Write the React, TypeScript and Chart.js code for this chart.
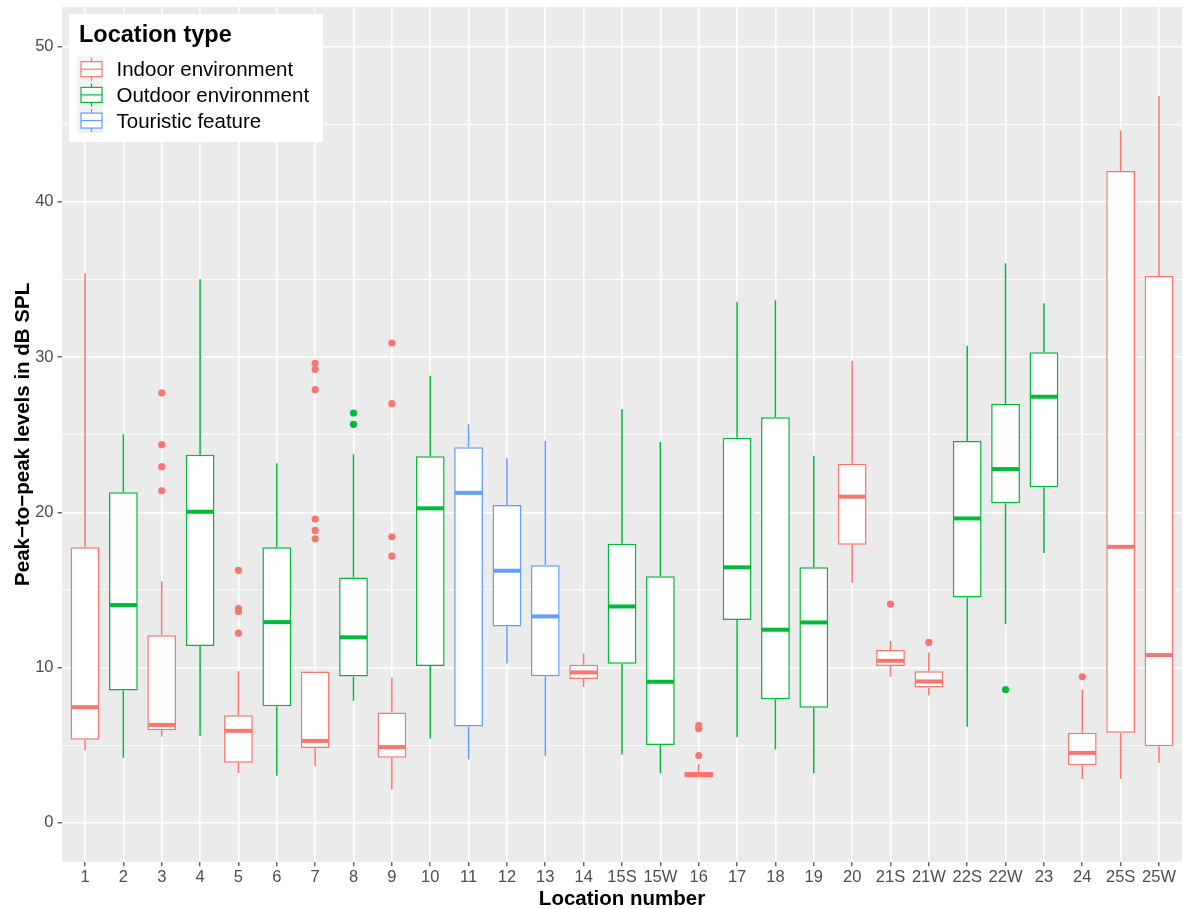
import React, { useEffect, useRef } from 'react';
import { Chart, registerables } from 'chart.js';

Chart.register(...registerables);

const FONT = '"Liberation Sans", Arial, Helvetica, sans-serif';

const LOCATIONS = ['1', '2', '3', '4', '5', '6', '7', '8', '9', '10', '11', '12', '13', '14', '15S', '15W', '16', '17', '18', '19', '20', '21S', '21W', '22S', '22W', '23', '24', '25S', '25W'];

const TYPES = ['Indoor environment', 'Outdoor environment', 'Touristic feature'];
const TYPE_COLORS = ['#F8766D', '#00BA38', '#619CFF'];

// 0 = Indoor, 1 = Outdoor, 2 = Touristic
const LOCATION_TYPE = [0, 1, 0, 1, 0, 1, 0, 1, 0, 1, 2, 2, 2, 0, 1, 1, 0, 1, 1, 1, 0, 0, 0, 1, 1, 1, 0, 0, 0];

const WHISKER_LOW = [4.68, 4.19, 5.54, 5.61, 3.22, 3.03, 3.67, 7.86, 2.15, 5.44, 4.08, 10.27, 4.32, 8.76, 4.41, 3.2, 2.93, 5.52, 4.73, 3.2, 15.46, 9.41, 8.21, 6.19, 12.8, 17.38, 2.82, 2.82, 3.87];
const Q1 = [5.35, 8.53, 5.97, 11.39, 3.87, 7.52, 4.83, 9.43, 4.19, 10.1, 6.21, 12.65, 9.45, 9.26, 10.25, 5.01, 2.93, 13.06, 7.97, 7.41, 17.91, 10.1, 8.72, 14.52, 20.58, 21.61, 3.72, 5.8, 4.94];
const MEDIAN = [7.45, 14.03, 6.31, 20.04, 5.93, 12.93, 5.28, 11.95, 4.88, 20.26, 21.26, 16.24, 13.3, 9.69, 13.94, 9.09, 3.12, 16.46, 12.44, 12.91, 21.01, 10.44, 9.11, 19.61, 22.79, 27.45, 4.51, 17.78, 10.81];
const Q3 = [17.75, 21.29, 12.09, 23.71, 6.94, 17.75, 9.75, 15.81, 7.11, 23.61, 24.19, 20.47, 16.6, 10.18, 17.98, 15.88, 3.29, 24.81, 26.12, 16.46, 23.13, 11.13, 9.76, 24.59, 27.0, 30.31, 5.8, 41.99, 35.23];
const WHISKER_HIGH = [35.4, 25.03, 15.57, 35.01, 9.77, 23.16, 9.75, 23.74, 9.37, 28.8, 25.67, 23.48, 24.61, 10.91, 26.64, 24.53, 3.78, 33.57, 33.66, 23.65, 29.77, 11.71, 10.98, 30.73, 36.04, 33.47, 8.57, 44.59, 46.82];

const OUTLIER_LOCATIONS = ['3', '3', '3', '3', '5', '5', '5', '5', '7', '7', '7', '7', '7', '7', '8', '8', '9', '9', '9', '9', '16', '16', '16', '21S', '21W', '22W', '24'];
const OUTLIER_VALUES = [27.69, 24.36, 22.94, 21.39, 16.26, 13.8, 13.62, 12.22, 29.6, 29.21, 27.9, 19.57, 18.84, 18.3, 26.4, 25.67, 30.91, 27.0, 18.43, 17.18, 6.28, 6.06, 4.34, 14.09, 11.62, 8.59, 9.41];

const Y_TICKS = [0, 5, 10, 15, 20, 25, 30, 35, 40, 45, 50];

const BOX_WIDTH_RATIO = 0.75;

const panelBackground = {
  id: 'panelBackground',
  beforeDraw(chart: any) {
    const { ctx, chartArea: a } = chart;
    ctx.save();
    ctx.fillStyle = '#EBEBEB';
    ctx.fillRect(a.left, a.top, a.right - a.left, a.bottom - a.top);
    ctx.restore();
  },
};

const boxParts = {
  id: 'boxParts',
  beforeDatasetsDraw(chart: any) {
    const { ctx } = chart;
    const xs = chart.scales.x;
    const ys = chart.scales.y;
    ctx.save();
    ctx.lineWidth = 1.5;
    LOCATIONS.forEach((_, i) => {
      const px = xs.getPixelForValue(i);
      ctx.strokeStyle = TYPE_COLORS[LOCATION_TYPE[i]];
      ctx.beginPath();
      ctx.moveTo(px, ys.getPixelForValue(Q3[i]));
      ctx.lineTo(px, ys.getPixelForValue(WHISKER_HIGH[i]));
      ctx.moveTo(px, ys.getPixelForValue(Q1[i]));
      ctx.lineTo(px, ys.getPixelForValue(WHISKER_LOW[i]));
      ctx.stroke();
    });
    ctx.restore();
  },
  afterDatasetsDraw(chart: any) {
    const { ctx } = chart;
    const xs = chart.scales.x;
    const ys = chart.scales.y;
    const half = (BOX_WIDTH_RATIO * (xs.getPixelForValue(1) - xs.getPixelForValue(0))) / 2;
    ctx.save();
    ctx.lineWidth = 4;
    ctx.lineCap = 'butt';
    LOCATIONS.forEach((_, i) => {
      const px = xs.getPixelForValue(i);
      const py = ys.getPixelForValue(MEDIAN[i]);
      ctx.strokeStyle = TYPE_COLORS[LOCATION_TYPE[i]];
      ctx.beginPath();
      ctx.moveTo(px - half + 0.75, py);
      ctx.lineTo(px + half - 0.75, py);
      ctx.stroke();
    });
    ctx.restore();
  },
};

const insideLegend = {
  id: 'insideLegend',
  afterDraw(chart: any) {
    const { ctx } = chart;
    ctx.save();
    ctx.fillStyle = '#FFFFFF';
    ctx.fillRect(69, 14, 254, 128);
    ctx.fillStyle = '#000000';
    ctx.font = `bold 23.5px ${FONT}`;
    ctx.textBaseline = 'alphabetic';
    ctx.textAlign = 'left';
    ctx.fillText('Location type', 79, 42.3);
    const rowH = 25.7;
    const firstCenter = 69.2;
    TYPES.forEach((name, t) => {
      const cy = firstCenter + t * rowH;
      ctx.fillStyle = '#F2F2F2';
      ctx.fillRect(77, cy - rowH / 2, 26, rowH);
      const color = TYPE_COLORS[t];
      ctx.strokeStyle = color;
      ctx.lineWidth = 1.2;
      ctx.beginPath();
      ctx.moveTo(91.5, cy - 11.5);
      ctx.lineTo(91.5, cy - 7.5);
      ctx.moveTo(91.5, cy + 7.5);
      ctx.lineTo(91.5, cy + 11.5);
      ctx.stroke();
      ctx.fillStyle = '#FFFFFF';
      ctx.fillRect(81, cy - 7.5, 21, 15);
      ctx.strokeRect(81, cy - 7.5, 21, 15);
      ctx.beginPath();
      ctx.moveTo(81, cy);
      ctx.lineTo(102, cy);
      ctx.stroke();
      ctx.fillStyle = '#000000';
      ctx.font = `20.5px ${FONT}`;
      ctx.fillText(name, 116.5, cy + 7.2);
    });
    ctx.restore();
  },
};

export default function App() {
  const canvasRef = useRef<HTMLCanvasElement | null>(null);

  useEffect(() => {
    const canvas = canvasRef.current;
    if (!canvas) return;
    Chart.defaults.font.family = FONT;

    const barDatasets = TYPES.map((name, t) => ({
      type: 'bar' as const,
      label: name,
      data: LOCATIONS.map((_, i) => (LOCATION_TYPE[i] === t ? { x: i, y: [Q1[i], Q3[i]] } : null)).filter((d) => d !== null),
      backgroundColor: '#FFFFFF',
      borderColor: TYPE_COLORS[t],
      borderWidth: 1.5,
      borderSkipped: false,
      grouped: false,
      barPercentage: BOX_WIDTH_RATIO,
      categoryPercentage: 1,
      order: 2,
    }));

    const outlierDatasets = TYPES.map((name, t) => ({
      type: 'scatter' as const,
      label: `${name} outliers`,
      data: OUTLIER_LOCATIONS.map((loc, k) => ({ x: LOCATIONS.indexOf(loc), y: OUTLIER_VALUES[k] })).filter((p) => LOCATION_TYPE[p.x] === t),
      pointRadius: 3.6,
      pointBackgroundColor: TYPE_COLORS[t],
      pointBorderWidth: 0,
      pointHoverRadius: 3.6,
      clip: false,
      order: 1,
    }));

    const chart = new Chart(canvas, {
      type: 'bar',
      data: { datasets: [...barDatasets, ...outlierDatasets] as any },
      plugins: [panelBackground, boxParts, insideLegend],
      options: {
        animation: false,
        responsive: false,
        devicePixelRatio: 1,
        layout: { autoPadding: false, padding: { top: 7, right: 1, left: 0, bottom: 0 } },
        plugins: {
          legend: { display: false },
          tooltip: { enabled: false },
        },
        scales: {
          x: {
            type: 'linear',
            min: -0.6,
            max: 28.6,
            offset: false,
            bounds: 'data',
            afterBuildTicks: (axis: any) => {
              axis.ticks = LOCATIONS.map((_, i) => ({ value: i }));
            },
            afterFit: (scale: any) => {
              scale.height = 47.3;
              scale.paddingLeft = 0;
              scale.paddingRight = 0;
              scale.paddingTop = 0;
              scale.paddingBottom = 0;
            },
            ticks: {
              callback: (v: any) => LOCATIONS[v as number] ?? '',
              autoSkip: false,
              maxRotation: 0,
              minRotation: 0,
              padding: 1,
              color: '#4D4D4D',
              font: { size: 16.5 },
            },
            grid: {
              offset: false,
              color: '#FFFFFF',
              lineWidth: 1.6,
              drawTicks: true,
              tickLength: 4.5,
              tickWidth: 1.1,
              tickColor: '#333333',
            },
            border: { display: false },
            title: {
              display: true,
              text: 'Location number',
              color: '#000000',
              font: { size: 20.5, weight: 'bold', lineHeight: 0.9 },
              padding: { top: 0, bottom: 0 },
            },
          },
          y: {
            type: 'linear',
            min: -2.5,
            max: 52.55,
            beginAtZero: false,
            afterBuildTicks: (axis: any) => {
              axis.ticks = Y_TICKS.map((v) => ({ value: v }));
            },
            afterFit: (scale: any) => {
              scale.width = 62;
              scale.paddingLeft = 0;
              scale.paddingRight = 0;
              scale.paddingTop = 0;
              scale.paddingBottom = 0;
            },
            ticks: {
              callback: (v: any) => ((v as number) % 10 === 0 ? String(v) : ''),
              padding: 4,
              color: '#4D4D4D',
              font: { size: 16.5 },
            },
            grid: {
              color: '#FFFFFF',
              lineWidth: (c: any) => (c.tick && c.tick.value % 10 === 0 ? 1.6 : 0.8),
              drawTicks: true,
              tickLength: 4.5,
              tickWidth: 1.1,
              tickColor: (c: any) => (c.tick && c.tick.value % 10 === 0 ? '#333333' : 'rgba(0,0,0,0)'),
            },
            border: { display: false },
            title: {
              display: true,
              text: 'Peak\u2212to\u2212peak levels in dB SPL',
              color: '#000000',
              font: { size: 20.5, weight: 'bold', lineHeight: 0.9 },
              padding: { top: 14, bottom: 0 },
            },
          },
        },
      } as any,
    });

    return () => chart.destroy();
  }, []);

  return (
    <div style={{ position: 'fixed', left: 0, top: 0, width: 1183, height: 909, background: '#FFFFFF' }}>
      <canvas ref={canvasRef} width={1183} height={909} style={{ display: 'block', width: 1183, height: 909 }} />
    </div>
  );
}
